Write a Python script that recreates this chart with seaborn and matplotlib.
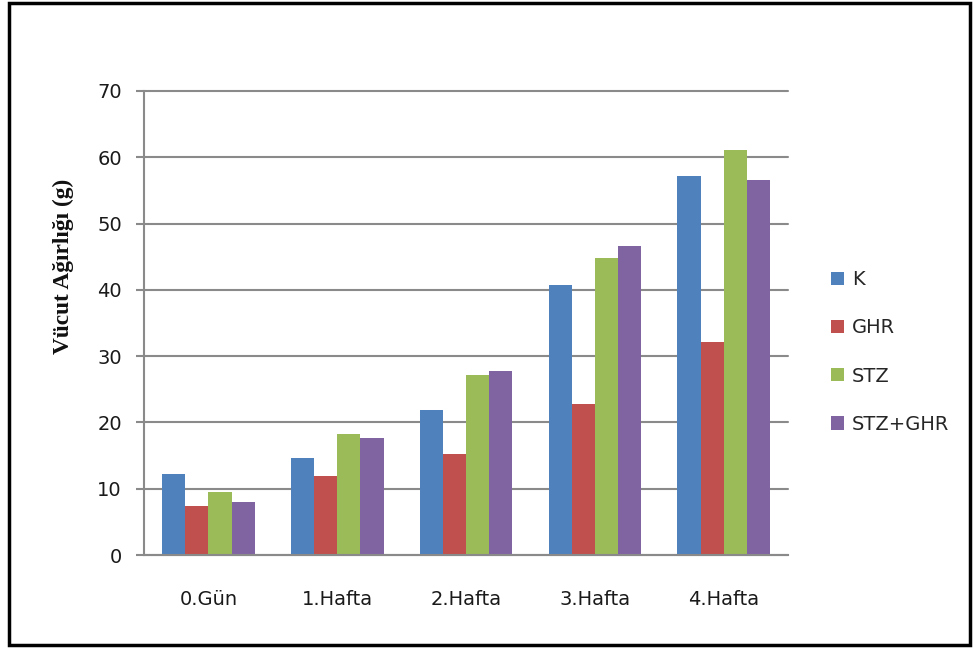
import matplotlib
matplotlib.use("Agg")
import matplotlib.pyplot as plt
import seaborn as sns
import pandas as pd
from matplotlib.patches import Rectangle

# Body weight (g) per group over time
periods = ["0.Gün", "1.Hafta", "2.Hafta", "3.Hafta", "4.Hafta"]
groups = ["K", "GHR", "STZ", "STZ+GHR"]
k_vals = [12.2, 14.6, 21.9, 40.8, 57.2]
ghr_vals = [7.4, 11.9, 15.3, 22.8, 32.2]
stz_vals = [9.5, 18.3, 27.1, 44.8, 61.1]
stz_ghr_vals = [8.0, 17.7, 27.7, 46.6, 56.6]
y_ticks = [0, 10, 20, 30, 40, 50, 60, 70]
y_label = "Vücut Ağırlığı (g)"

series = {"K": k_vals, "GHR": ghr_vals, "STZ": stz_vals, "STZ+GHR": stz_ghr_vals}
rows = []
for g in groups:
    for p, v in zip(periods, series[g]):
        rows.append({"period": p, "group": g, "value": v})
df = pd.DataFrame(rows)

palette = {"K": "#4F81BD", "GHR": "#C0504D", "STZ": "#9BBB59", "STZ+GHR": "#8064A2"}

sns.set_theme(style="white")
plt.rcParams["font.family"] = ["DejaVu Sans"]

fig = plt.figure(figsize=(9.73, 6.48), dpi=100)
ax = fig.add_axes([0.148, 0.1435, 0.662, 0.7161])

sns.barplot(data=df, x="period", y="value", hue="group", order=periods,
            hue_order=groups, palette=palette, width=0.72, saturation=1,
            edgecolor="none", linewidth=0, ax=ax, legend=True)

ax.set_ylim(0, 70)
ax.set_xlim(-0.5, len(periods) - 0.5)
ax.set_yticks(y_ticks)
ax.set_yticklabels([str(t) for t in y_ticks], fontsize=14, color="#1a1a1a")
ax.set_xticks(range(len(periods)))
ax.set_xticklabels(periods, fontsize=14, color="#1a1a1a")
ax.set_xlabel("")
ax.set_ylabel("")
fig.text(63 / 973, 1 - 266 / 648, y_label, rotation=90, ha="center", va="center",
         family="Liberation Serif", fontweight="bold", fontsize=16.8, color="#111111")

ax.yaxis.grid(True, color="#8a8a8a", linewidth=1.5)
for gl in ax.yaxis.get_gridlines():
    gl.set_clip_on(False)
ax.set_axisbelow(True)
for side in ["top", "right"]:
    ax.spines[side].set_visible(False)
for side in ["left", "bottom"]:
    ax.spines[side].set_color("#8a8a8a")
    ax.spines[side].set_linewidth(1.5)
ax.tick_params(axis="y", which="major", length=6, width=1.5, color="#8a8a8a",
               pad=10, left=True)
ax.tick_params(axis="x", length=0, pad=25)

ax.legend(loc="center left", bbox_to_anchor=(831 / 973, 1 - 352 / 648),
          bbox_transform=fig.transFigure, frameon=False, fontsize=14,
          handlelength=0.67, handleheight=0.67, handletextpad=0.4,
          labelspacing=1.5, borderpad=0, borderaxespad=0)

# outer frame of the figure
fig.patches.append(Rectangle((0.009, 0.004), 0.988, 0.991, transform=fig.transFigure,
                             fill=False, edgecolor="black", linewidth=2.5))

fig.savefig("out.png", dpi=100)
